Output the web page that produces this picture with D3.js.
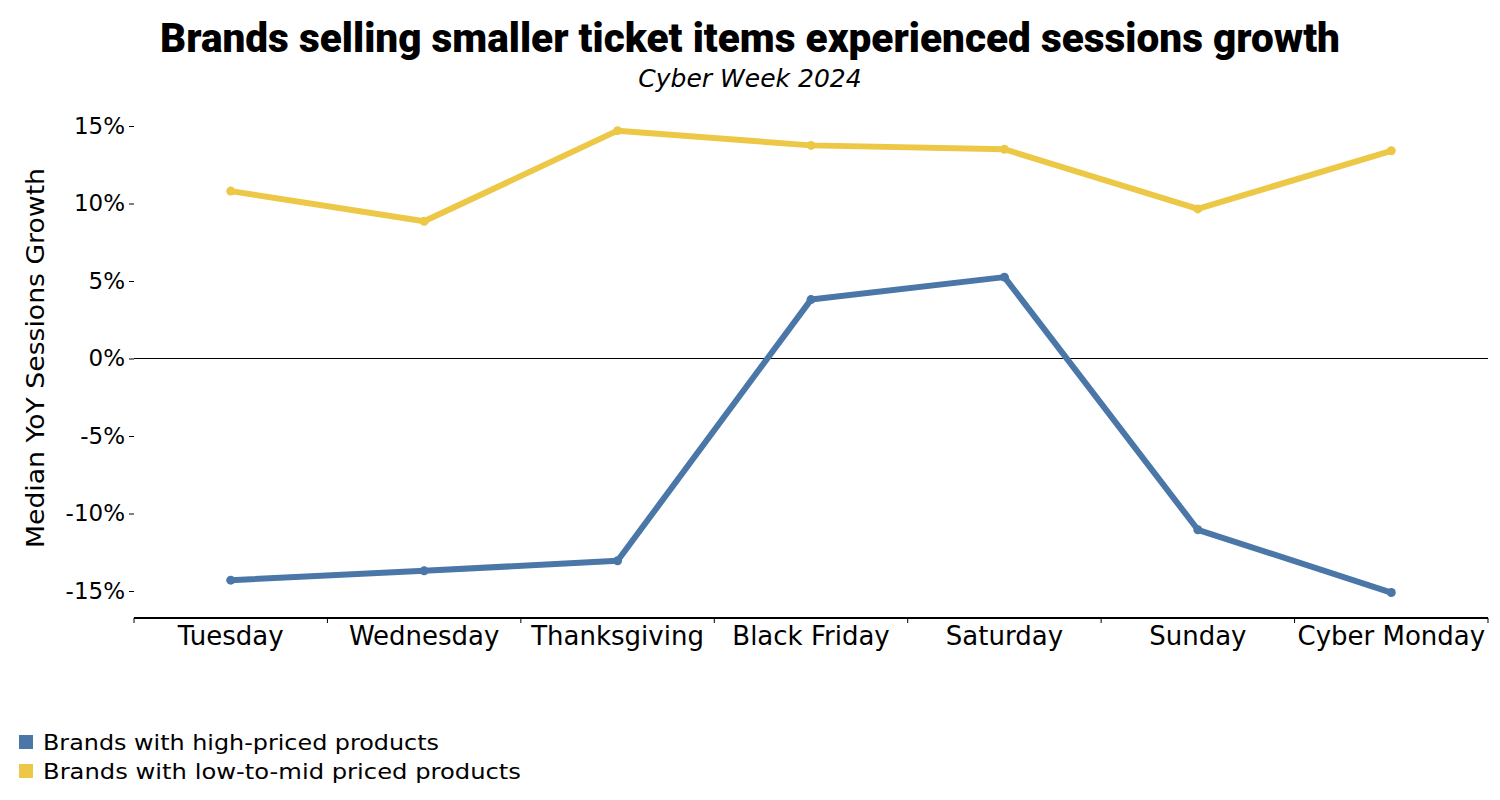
<!DOCTYPE html>
<html><head><meta charset="utf-8">
<script src="https://cdn.jsdelivr.net/npm/d3@7"></script>
<style>
body{margin:0;background:#fff;}
svg{display:block;}
</style></head>
<body>
<svg id="chart" width="1500" height="800"></svg>
<script>
const categories = ["Tuesday","Wednesday","Thanksgiving","Black Friday","Saturday","Sunday","Cyber Monday"];
const highPriced = [-14.3, -13.7, -13.05, 3.8, 5.25, -11.05, -15.1];
const lowMidPriced = [10.8, 8.85, 14.7, 13.75, 13.5, 9.65, 13.4];
const yTicks = [-15, -10, -5, 0, 5, 10, 15];
const seriesNames = ["Brands with high-priced products", "Brands with low-to-mid priced products"];
const seriesColors = ["#4a77a8", "#ecc846"];

const svg = d3.select("#chart");
const left = 134, right = 1488;
const x = d3.scaleBand().domain(categories).range([left, right]).padding(0);
const y = d3.scaleLinear().domain([-15, 15]).range([591, 126]);
const yBottom = 618;

const font = "'DejaVu Sans',sans-serif";

// title
svg.append("text").attr("x", 750).attr("y", 52).attr("text-anchor", "middle")
  .attr("font-family", "Roboto, 'Liberation Sans', sans-serif").attr("font-weight", 900)
  .attr("font-size", 40).attr("fill", "#000")
  .attr("textLength", 1180).attr("lengthAdjust", "spacingAndGlyphs")
  .text("Brands selling smaller ticket items experienced sessions growth");
svg.append("text").attr("x", 750).attr("y", 87).attr("text-anchor", "middle")
  .attr("font-family", font).attr("font-style", "italic")
  .attr("font-size", 25).attr("fill", "#000").text("Cyber Week 2024");

// y axis
const yAxis = svg.append("g").attr("transform", `translate(${left},0)`)
  .call(d3.axisLeft(y).tickValues(yTicks).tickFormat(d => d + "%").tickSize(5).tickPadding(4));
yAxis.select(".domain").remove();
yAxis.selectAll("text").attr("font-family", font).attr("font-size", 23).attr("fill", "#000");
yAxis.selectAll("line").attr("stroke", "#000");

svg.append("text")
  .attr("transform", `translate(44,358) rotate(-90)`)
  .attr("text-anchor", "middle").attr("font-family", font).attr("font-size", 24).attr("fill", "#000")
  .attr("textLength", 380).attr("lengthAdjust", "spacingAndGlyphs")
  .text("Median YoY Sessions Growth");

// zero line
svg.append("line").attr("x1", left).attr("x2", right).attr("y1", y(0)).attr("y2", y(0))
  .attr("stroke", "#000").attr("stroke-width", 1);

// x axis
const xAxis = svg.append("g").attr("transform", `translate(0,${yBottom})`)
  .call(d3.axisBottom(x).tickSize(0).tickPadding(9));
xAxis.select(".domain").attr("stroke", "#000").attr("stroke-width", 2).attr("d", `M${left},0H${right}`);
xAxis.selectAll("text").attr("font-family", font).attr("font-size", 26).attr("fill", "#000");
const bounds = categories.map(c => x(c)).concat([right]);
xAxis.selectAll(".sep").data(bounds).enter().append("line")
  .attr("x1", d => d).attr("x2", d => d).attr("y1", 0).attr("y2", 5)
  .attr("stroke", "#000").attr("stroke-width", 1);

// lines
const cx = c => x(c) + x.bandwidth() / 2;
const line = d3.line().x(d => cx(d.c)).y(d => y(d.v));
[highPriced, lowMidPriced].forEach((vals, i) => {
  const data = categories.map((c, j) => ({c, v: vals[j]}));
  svg.append("path").datum(data).attr("d", line).attr("fill", "none")
    .attr("stroke", seriesColors[i]).attr("stroke-width", 6).attr("stroke-linejoin", "round");
  svg.selectAll(".dot" + i).data(data).enter().append("circle")
    .attr("cx", d => cx(d.c)).attr("cy", d => y(d.v)).attr("r", 4.5).attr("fill", seriesColors[i]);
});

// legend
const legendLengths = [396, 478];
const lg = svg.append("g");
seriesNames.forEach((n, i) => {
  lg.append("rect").attr("x", 19).attr("y", 735 + i * 29).attr("width", 14).attr("height", 14)
    .attr("fill", seriesColors[i]);
  lg.append("text").attr("x", 43).attr("y", 750 + i * 29).attr("font-family", font)
    .attr("font-size", 22).attr("fill", "#000")
    .attr("textLength", legendLengths[i]).attr("lengthAdjust", "spacingAndGlyphs").text(n);
});
</script>
</body></html>
